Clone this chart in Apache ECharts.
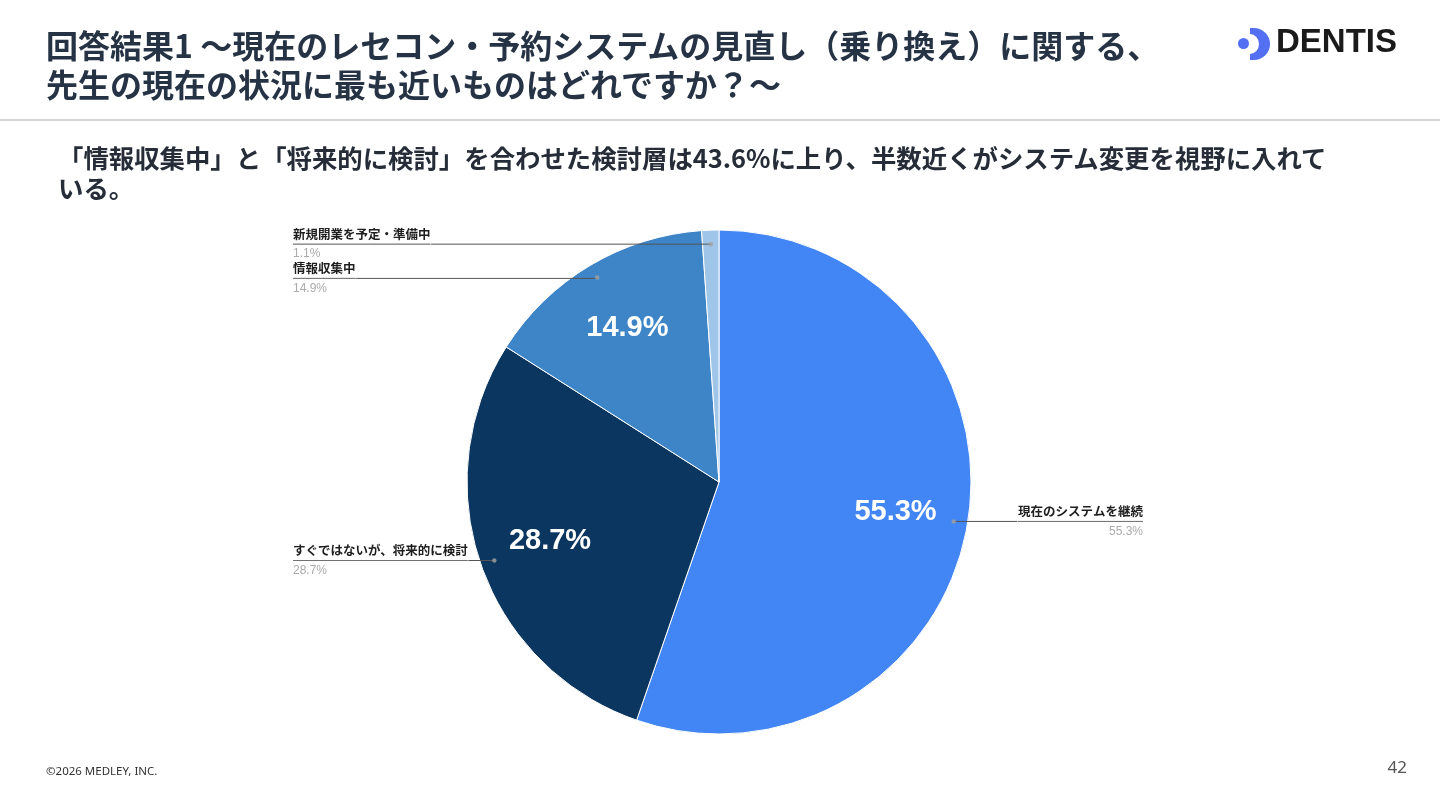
<!DOCTYPE html>
<html>
<head>
<meta charset="utf-8">
<script src="https://cdn.jsdelivr.net/npm/echarts@6/dist/echarts.min.js"></script>
<style>
  html, body { margin: 0; padding: 0; background: #fff; }
  body { width: 1440px; height: 810px; position: relative; overflow: hidden;
         font-family: "Noto Sans CJK JP", "Noto Sans", sans-serif; }
  #main { position: absolute; left: 0; top: 0; width: 1440px; height: 810px; }
  .title { position: absolute; left: 46px; top: 25px; font-size: 32px; line-height: 39px;
           font-weight: 700; color: #253345; white-space: nowrap; }
  .rule { position: absolute; left: 0; top: 119px; width: 1440px; height: 2px; background: #d6d6d6; }
  .lead { position: absolute; left: 58px; top: 142px; font-size: 25.4px; line-height: 30px;
          font-weight: 700; color: #262d38; white-space: nowrap; }
  .foot { position: absolute; left: 46px; top: 763px; font-size: 11.5px; color: #333;
          font-family: "Noto Sans", sans-serif; }
  .page { position: absolute; right: 33px; top: 755px; font-size: 17px; color: #555;
          font-family: "Noto Sans", sans-serif; }
  .logo { position: absolute; left: 1237px; top: 27px; height: 34px; }
  .logo .half { position: absolute; left: 13px; top: 1px; width: 20px; height: 32px;
                background: #5470f2; border-radius: 0 16px 16px 0; }
  .logo .cut { position: absolute; left: 4px; top: 7px; width: 18px; height: 20px;
               background: #fff; border-radius: 50%; }
  .logo .dot { position: absolute; left: 1px; top: 11px; width: 11px; height: 11px;
               background: #5470f2; border-radius: 50%; }
  .logo .word { position: absolute; left: 39px; top: -3px; font-size: 33px; line-height: 33px;
                font-weight: 700; color: #1a1a1a; font-family: "Liberation Sans", Arial, sans-serif; }
</style>
</head>
<body>
<div id="main"></div>
<div class="title">回答結果1 ～現在のレセコン・予約システムの見直し（乗り換え）に関する、<br>先生の現在の状況に最も近いものはどれですか？～</div>
<div class="rule"></div>
<div class="lead">「情報収集中」と「将来的に検討」を合わせた検討層は43.6%に上り、半数近くがシステム変更を視野に入れて<br>いる。</div>
<div class="logo"><div class="half"></div><div class="cut"></div><div class="dot"></div><div class="word">DENTIS</div></div>
<div class="foot">©2026 MEDLEY, INC.</div>
<div class="page">42</div>
<script>
// 回答カテゴリと割合(%)
var answerNames = ['現在のシステムを継続', 'すぐではないが、将来的に検討', '情報収集中', '新規開業を予定・準備中'];
var answerShares = [55.3, 28.7, 14.9, 1.1];
var sliceColors = ['#4285f4', '#0b365f', '#3d85c6', '#9fc5e8'];

var chart = echarts.init(document.getElementById('main'));

// 本体の円
var pieData = answerNames.map(function (n, i) {
  return { name: n, value: answerShares[i], itemStyle: { color: sliceColors[i] } };
});
// ラベル用(透明)
var ghostData = answerNames.map(function (n, i) {
  return { name: n, value: answerShares[i] };
});
// 外側ラベル: 右側だけ端からの距離を少し変える
var outerData = answerNames.map(function (n, i) {
  return { name: n, value: answerShares[i], label: { edgeDistance: i === 0 ? 297 : 293 } };
});
// 引き出し線の起点の点 (極座標: [半径, 角度=累積%の中央])
var dotData = [];
var acc = 0;
answerShares.forEach(function (v) {
  dotData.push([238, acc + v / 2]);
  acc += v;
});

var center = [719, 482];

chart.setOption({
  animation: false,
  polar: { center: center, radius: 252 },
  angleAxis: { type: 'value', min: 0, max: 100, startAngle: 90, clockwise: true, show: false },
  radiusAxis: { type: 'value', min: 0, max: 252, show: false },
  series: [
    {
      type: 'pie',
      center: center,
      radius: 252,
      startAngle: 90,
      clockwise: true,
      silent: true,
      z: 1,
      label: { show: false },
      labelLine: { show: false },
      itemStyle: { borderColor: '#fff', borderWidth: 1 },
      data: pieData
    },
    {
      // 円内の大きな%表示
      type: 'pie',
      center: center,
      radius: [100, 252],
      startAngle: 90,
      clockwise: true,
      silent: true,
      z: 3,
      itemStyle: { color: 'transparent' },
      label: {
        show: true,
        position: 'inside',
        color: '#fff',
        fontSize: 29,
        fontWeight: 'bold',
        fontFamily: 'Liberation Sans, Arial, sans-serif',
        formatter: function (p) { return p.value > 5 ? p.value.toFixed(1) + '%' : ''; }
      },
      labelLine: { show: false },
      data: ghostData
    },
    {
      // 外側のラベル
      type: 'pie',
      center: center,
      radius: 238,
      startAngle: 90,
      clockwise: true,
      silent: true,
      z: 4,
      avoidLabelOverlap: true,
      itemStyle: { color: 'transparent' },
      label: {
        show: true,
        position: 'outer',
        alignTo: 'edge',
        edgeDistance: 293,
        distanceToLabelLine: 0,
        formatter: function (p) {
          return '{n|' + p.name + '}\n{hr|}\n{p|' + p.value.toFixed(1) + '%}';
        },
        rich: {
          n: { fontSize: 12.5, fontWeight: 'bold', color: '#1e1e1e', lineHeight: 20,
               fontFamily: 'Noto Sans CJK JP' },
          hr: { borderColor: '#555', borderWidth: 0.6, width: '100%', height: 0 },
          p: { fontSize: 12, color: '#aaa', lineHeight: 20, fontFamily: 'Liberation Sans, Arial' }
        }
      },
      labelLine: {
        show: true,
        length: 0,
        length2: 10,
        lineStyle: { color: '#555', width: 1 }
      },
      data: outerData
    },
    {
      type: 'scatter',
      coordinateSystem: 'polar',
      symbol: 'circle',
      symbolSize: 4.5,
      silent: true,
      z: 5,
      itemStyle: { color: '#a0a0a0' },
      data: dotData
    }
  ]
});
</script>
</body>
</html>
